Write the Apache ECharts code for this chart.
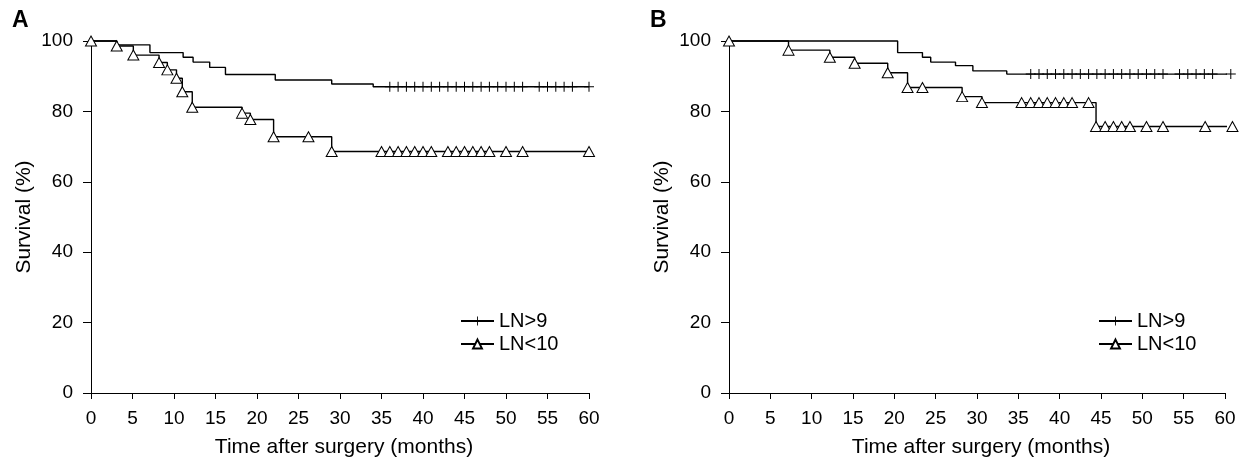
<!DOCTYPE html>
<html lang="en">
<head>
<meta charset="UTF-8">
<script src="https://cdn.jsdelivr.net/npm/echarts@6/dist/echarts.min.js"></script>
<style>
  html, body { margin: 0; padding: 0; background: #fff; }
  #chart { width: 1247px; height: 463px; }
</style>
</head>
<body>
<div id="chart"></div>
<script>
// Panel A: LN>9 (events, then censored times)
var aHiT = [0, 3.1, 7.1, 11.1, 12.3, 14.3, 16.2, 22.2, 29.0, 34.0];
var aHiS = [100, 98.9, 96.7, 95.4, 94.0, 92.5, 90.5, 88.9, 87.8, 87.0];
var aHiCen = [36, 37, 38, 39, 40, 41, 42, 43, 44, 45, 46, 47, 48, 49, 50, 51, 52, 54, 55, 56, 57, 58, 60];
// Panel A: LN<10
var aLoT = [0, 3.1, 5.1, 8.2, 9.2, 10.3, 11.0, 12.2, 18.2, 19.2, 22.0, 29.0];
var aLoS = [100, 98.6, 96.0, 93.9, 91.8, 89.4, 85.6, 81.2, 79.5, 77.7, 72.8, 68.6];
var aLoCen = [26.2, 35, 36, 37, 38, 39, 40, 41, 43, 44, 45, 46, 47, 48, 50, 52, 60];

// Panel B: LN>9
var bHiT = [0, 20.4, 23.4, 24.4, 27.4, 29.5, 33.6];
var bHiS = [100, 96.7, 95.4, 94.0, 93.0, 91.5, 90.6];
var bHiCen = [36.5, 37.5, 38.5, 39.5, 40.5, 41.5, 42.5, 43.5, 44.5, 45.5, 46.5, 47.5, 48.5, 49.5, 50.5, 51.5, 52.5,
              54.5, 55.5, 56.5, 57.5, 58.5, 60.7];
// Panel B: LN<10
var bLoT = [0, 7.2, 12.2, 15.2, 19.2, 21.6, 28.2, 30.6, 44.4];
var bLoS = [100, 97.4, 95.4, 93.7, 91.0, 86.8, 84.2, 82.5, 75.7];
var bLoCen = [23.4, 35.4, 36.5, 37.5, 38.5, 39.5, 40.5, 41.5, 43.5,
              45.5, 46.5, 47.5, 48.5, 50.5, 52.5, 57.6, 60.9];

var names = ['LN>9', 'LN<10'];
var font = 'Liberation Sans, Arial, sans-serif';
var plus = 'path://M0,4.5H10V5.5H0Z M4.5,0H5.5V10H4.5Z';

// merge events and censored times into one step line
function kmData(t, s, cen, eventSymbol) {
  var pts = [];
  for (var i = 0; i < t.length; i++) {
    pts.push({ value: [t[i], s[i]], symbol: eventSymbol });
  }
  cen.forEach(function (c) {
    var lvl = s[0];
    for (var i = 0; i < t.length; i++) { if (t[i] <= c) lvl = s[i]; }
    pts.push({ value: [c, lvl] });
  });
  pts.sort(function (p, q) { return p.value[0] - q.value[0]; });
  return pts;
}

function hiSeries(idx, t, s, cen) {
  return {
    name: names[0], type: 'line', step: 'end', xAxisIndex: idx, yAxisIndex: idx,
    data: kmData(t, s, cen, 'none'),
    symbol: plus, symbolSize: [10, 10], clip: false,
    itemStyle: { color: '#000' },
    lineStyle: { color: '#000', width: 1.4 },
    animation: false
  };
}
function loSeries(idx, t, s, cen) {
  return {
    name: names[1], type: 'line', step: 'end', xAxisIndex: idx, yAxisIndex: idx,
    data: kmData(t, s, cen, 'triangle'),
    symbol: 'triangle', symbolSize: [11, 10], clip: false,
    itemStyle: { color: '#fff', borderColor: '#000', borderWidth: 1 },
    lineStyle: { color: '#000', width: 1.4 },
    animation: false
  };
}

function xAxis(idx) {
  return {
    type: 'value', gridIndex: idx, min: 0, max: 60, interval: 5,
    name: 'Time after surgery (months)', nameLocation: 'middle', nameGap: 44,
    nameTextStyle: { fontFamily: font, fontSize: 21, color: '#000', padding: [0, 0, 0, 8] },
    axisLine: { lineStyle: { color: '#000', width: 1 } },
    axisTick: { length: 6, lineStyle: { color: '#000' } },
    axisLabel: { margin: 16, fontFamily: font, fontSize: 19, color: '#000' },
    splitLine: { show: false }
  };
}
function yAxis(idx) {
  return {
    type: 'value', gridIndex: idx, min: 0, max: 100, interval: 20,
    name: 'Survival (%)', nameLocation: 'middle', nameGap: 56, nameRotate: 90,
    nameTextStyle: { fontFamily: font, fontSize: 21, color: '#000' },
    axisLine: { show: true, lineStyle: { color: '#000', width: 1 } },
    axisTick: { show: true, length: 8, lineStyle: { color: '#000' } },
    axisLabel: { margin: 18, fontFamily: font, fontSize: 19, color: '#000' },
    splitLine: { show: false }
  };
}
function legend(left) {
  return {
    data: names, orient: 'vertical', left: left, top: 306,
    itemWidth: 33, itemHeight: 11, itemGap: 3,
    textStyle: { fontFamily: font, fontSize: 20, color: '#000' },
    selectedMode: false
  };
}

var chart = echarts.init(document.getElementById('chart'));
chart.setOption({
  backgroundColor: '#fff',
  title: [
    { text: 'A', left: 7, top: 4, textStyle: { fontFamily: font, fontSize: 23, fontWeight: 'bold', color: '#000' } },
    { text: 'B', left: 645, top: 4, textStyle: { fontFamily: font, fontSize: 23, fontWeight: 'bold', color: '#000' } }
  ],
  legend: [legend(455), legend(1093)],
  grid: [
    { left: 91, top: 41, width: 498, height: 352 },
    { left: 729, top: 41, width: 496, height: 352 }
  ],
  xAxis: [xAxis(0), xAxis(1)],
  yAxis: [yAxis(0), yAxis(1)],
  series: [
    hiSeries(0, aHiT, aHiS, aHiCen),
    loSeries(0, aLoT, aLoS, aLoCen),
    hiSeries(1, bHiT, bHiS, bHiCen),
    loSeries(1, bLoT, bLoS, bLoCen)
  ]
});
</script>
</body>
</html>
